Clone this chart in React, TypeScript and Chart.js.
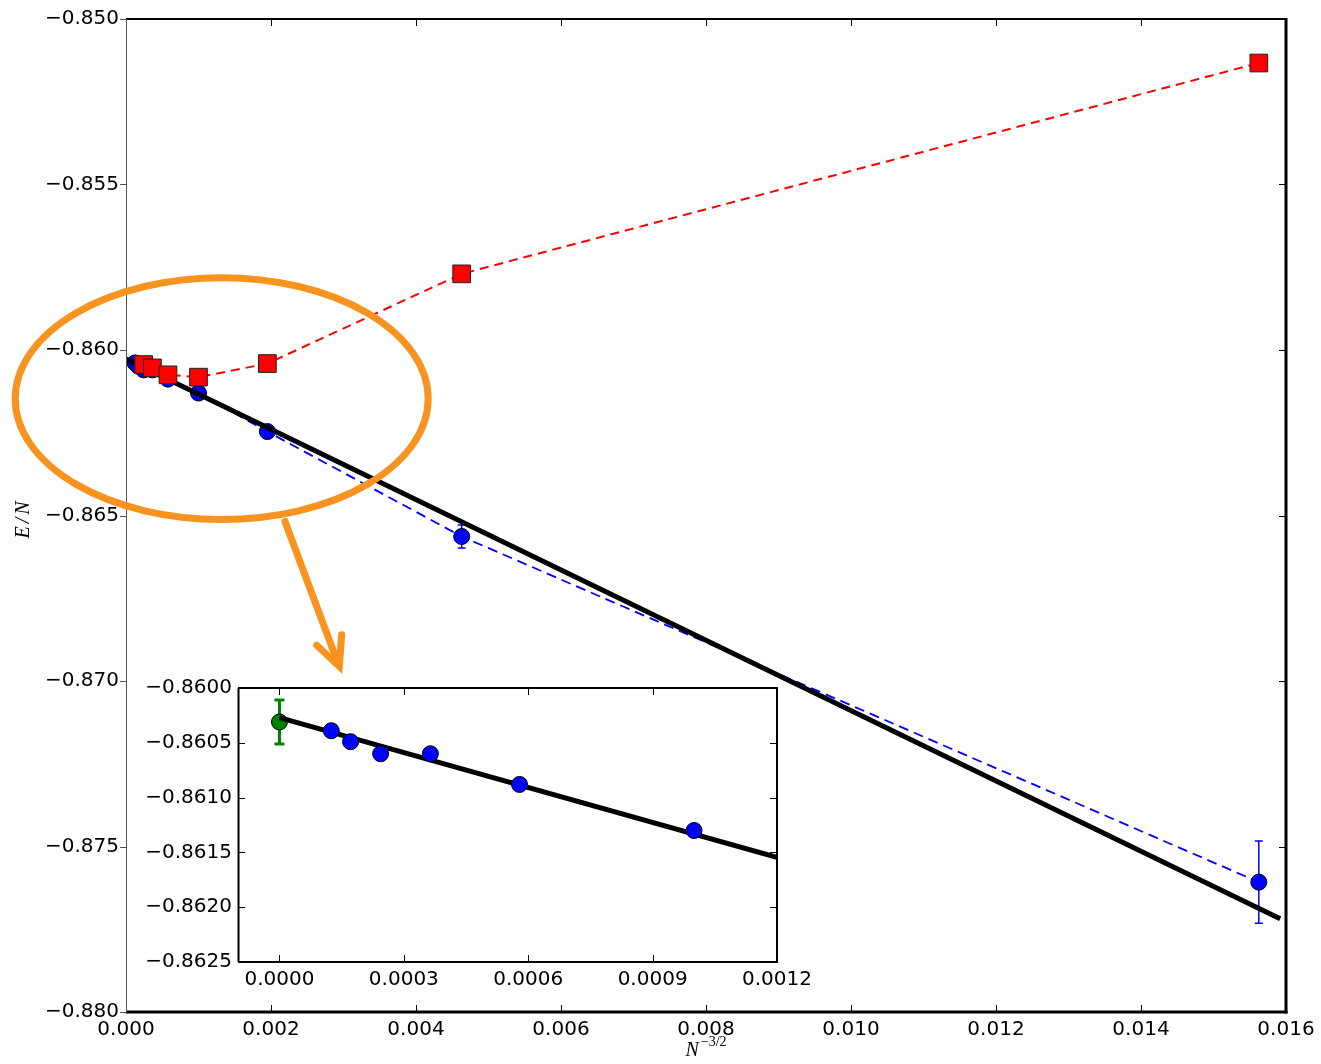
import React, { useEffect, useRef } from "react";
import { Chart, registerables } from "chart.js";

Chart.register(...registerables);

// Finite-size energies E/N against N^{-3/2}
const blueX = [0.000125, 0.0001715, 0.000244, 0.000364, 0.000579, 0.001, 0.00195, 0.00463, 0.015625];
const blueY = [-0.86039, -0.86049, -0.8606, -0.8606, -0.86088, -0.8613, -0.862465, -0.865634, -0.876077];
const blueErr = [0, 0, 0, 0, 0, 0, 0, 0.00035, 0.00124];

const redX = [0.000244, 0.000364, 0.000579, 0.001, 0.00195, 0.00463, 0.015625];
const redY = [-0.86044, -0.86054, -0.86075, -0.86082, -0.86041, -0.8577, -0.85133];

// Linear extrapolation and its N -> infinity value
const fitX = [0, 0.01592];
const fitY = [-0.86027, -0.877185];
const limitX = [0];
const limitY = [-0.86031];
const limitErr = [0.0002];

// Tick values
const mainXTicks = [0, 0.002, 0.004, 0.006, 0.008, 0.01, 0.012, 0.014, 0.016];
const mainYTicks = [-0.88, -0.875, -0.87, -0.865, -0.86, -0.855, -0.85];
const insetXTicks = [0, 0.0003, 0.0006, 0.0009, 0.0012];
const insetYTicks = [-0.8625, -0.862, -0.8615, -0.861, -0.8605, -0.86];

// Highlight around the small-x region (data units)
const ringCenter = { x: 0.00132, y: -0.86147 };
const ringRadius = { x: 0.002848, y: 0.003652 };
const arrowTail = { x: 0.002193, y: -0.86518 };
const arrowTip = { x: 0.002942, y: -0.86956 };
const arrowArms = [
  { x: 0.00263, y: -0.86892 },
  { x: 0.002975, y: -0.8686 },
];

const ORANGE = "#f7931e";
const TICK_FONT = { size: 20, family: "'DejaVu Sans', sans-serif" };

const zip = (xs: number[], ys: number[]) => xs.map((x, i) => ({ x, y: ys[i] }));

function fmt(v: number, d: number) {
  const s = Math.abs(v).toFixed(d);
  return v < -1e-12 ? "\u2212" + s : s;
}

const errorBars = {
  id: "errorBars",
  beforeDatasetsDraw(chart: any) {
    const { ctx, chartArea: ca } = chart;
    const x = chart.scales.x;
    const y = chart.scales.y;
    ctx.save();
    ctx.beginPath();
    ctx.rect(ca.left, ca.top, ca.right - ca.left, ca.bottom - ca.top);
    ctx.clip();
    chart.data.datasets.forEach((ds: any) => {
      if (!ds.errors) return;
      ds.data.forEach((p: any, j: number) => {
        const e = ds.errors[j];
        if (!e) return;
        const px = x.getPixelForValue(p.x);
        const t = y.getPixelForValue(p.y + e);
        const b = y.getPixelForValue(p.y - e);
        const c = ds.errorCap;
        ctx.strokeStyle = ds.errorColor;
        ctx.lineWidth = ds.errorWidth;
        ctx.beginPath();
        ctx.moveTo(px, t);
        ctx.lineTo(px, b);
        ctx.moveTo(px - c, t);
        ctx.lineTo(px + c, t);
        ctx.moveTo(px - c, b);
        ctx.lineTo(px + c, b);
        ctx.stroke();
      });
    });
    ctx.restore();
  },
};

function framePlugin(cfg: {
  xTicks: number[];
  yTicks: number[];
  leftOut: boolean;
  widths: [number, number, number, number];
  leftColor: string;
}) {
  return {
    id: "frame",
    beforeDraw(chart: any) {
      const { ctx, chartArea: ca } = chart;
      ctx.save();
      ctx.fillStyle = "#ffffff";
      ctx.fillRect(ca.left, ca.top, ca.right - ca.left, ca.bottom - ca.top);
      ctx.restore();
    },
    afterDatasetsDraw(chart: any) {
      const { ctx, chartArea: ca } = chart;
      const x = chart.scales.x;
      const y = chart.scales.y;
      const L = 7;
      ctx.save();
      ctx.lineWidth = 1;
      ctx.strokeStyle = "#000";
      ctx.beginPath();
      cfg.xTicks.forEach((v) => {
        const px = Math.round(x.getPixelForValue(v)) + 0.5;
        ctx.moveTo(px, ca.bottom);
        ctx.lineTo(px, ca.bottom - L);
        ctx.moveTo(px, ca.top);
        ctx.lineTo(px, ca.top + L);
      });
      cfg.yTicks.forEach((v) => {
        const py = Math.round(y.getPixelForValue(v)) + 0.5;
        ctx.moveTo(ca.right, py);
        ctx.lineTo(ca.right - L, py);
        if (!cfg.leftOut) {
          ctx.moveTo(ca.left, py);
          ctx.lineTo(ca.left + L, py);
        }
      });
      ctx.stroke();
      if (cfg.leftOut) {
        ctx.strokeStyle = cfg.leftColor;
        ctx.beginPath();
        cfg.yTicks.forEach((v) => {
          const py = Math.round(y.getPixelForValue(v)) + 0.5;
          ctx.moveTo(ca.left - 6, py);
          ctx.lineTo(ca.left, py);
        });
        ctx.stroke();
      }
      const [wt, wr, wb, wl] = cfg.widths;
      ctx.strokeStyle = "#000";
      ctx.lineWidth = wt;
      ctx.beginPath();
      ctx.moveTo(ca.left, ca.top);
      ctx.lineTo(ca.right, ca.top);
      ctx.stroke();
      ctx.lineWidth = wr;
      ctx.beginPath();
      ctx.moveTo(ca.right, ca.top - wt / 2);
      ctx.lineTo(ca.right, ca.bottom + wb / 2);
      ctx.stroke();
      ctx.lineWidth = wb;
      ctx.beginPath();
      ctx.moveTo(ca.left, ca.bottom);
      ctx.lineTo(ca.right + wr / 2, ca.bottom);
      ctx.stroke();
      ctx.strokeStyle = cfg.leftColor;
      ctx.lineWidth = wl;
      ctx.beginPath();
      ctx.moveTo(Math.round(ca.left) + 0.5, ca.top);
      ctx.lineTo(Math.round(ca.left) + 0.5, ca.bottom);
      ctx.stroke();
      ctx.restore();
    },
  };
}

const mainDecor = {
  id: "mainDecor",
  afterDraw(chart: any) {
    const { ctx, chartArea: ca } = chart;
    const x = chart.scales.x;
    const y = chart.scales.y;
    ctx.save();
    // highlight ring
    const cx = x.getPixelForValue(ringCenter.x);
    const cy = y.getPixelForValue(ringCenter.y);
    const rx = x.getPixelForValue(ringCenter.x + ringRadius.x) - cx;
    const ry = cy - y.getPixelForValue(ringCenter.y + ringRadius.y);
    ctx.strokeStyle = ORANGE;
    ctx.lineWidth = 7;
    ctx.beginPath();
    ctx.ellipse(cx, cy, rx, ry, 0, 0, Math.PI * 2);
    ctx.stroke();
    // arrow to the inset
    const tx = x.getPixelForValue(arrowTip.x);
    const ty = y.getPixelForValue(arrowTip.y);
    ctx.lineCap = "round";
    ctx.lineJoin = "miter";
    ctx.beginPath();
    ctx.moveTo(x.getPixelForValue(arrowTail.x), y.getPixelForValue(arrowTail.y));
    ctx.lineTo(tx - 2, ty - 5);
    ctx.stroke();
    ctx.beginPath();
    ctx.moveTo(x.getPixelForValue(arrowArms[0].x), y.getPixelForValue(arrowArms[0].y));
    ctx.lineTo(tx, ty);
    ctx.lineTo(x.getPixelForValue(arrowArms[1].x), y.getPixelForValue(arrowArms[1].y));
    ctx.stroke();
    ctx.restore();

    // axis titles
    ctx.save();
    ctx.fillStyle = "#000";
    ctx.translate(24, (ca.top + ca.bottom) / 2 + 3);
    ctx.rotate(-Math.PI / 2);
    ctx.font = "italic 20px 'Liberation Serif', serif";
    (ctx as any).letterSpacing = "3px";
    ctx.textAlign = "center";
    ctx.textBaseline = "middle";
    ctx.fillText("E/N", 0, 0);
    ctx.restore();

    ctx.save();
    ctx.fillStyle = "#000";
    const mainFont = "italic 20px 'Liberation Serif', serif";
    const supFont = "14px 'Liberation Serif', serif";
    ctx.font = mainFont;
    const wN = ctx.measureText("N").width;
    ctx.font = supFont;
    const sup = "\u22123/2";
    const wS = ctx.measureText(sup).width;
    const x0 = (ca.left + ca.right) / 2 - (wN + wS + 2) / 2;
    const base = 1056;
    ctx.textAlign = "left";
    ctx.textBaseline = "alphabetic";
    ctx.font = mainFont;
    ctx.fillText("N", x0, base);
    ctx.font = supFont;
    ctx.fillText(sup, x0 + wN + 2, base - 10);
    ctx.restore();
  },
};

function tickAxis(
  min: number,
  max: number,
  ticks: number[],
  digits: number,
  padding: number,
  fit: (s: any) => void
) {
  return {
    type: "linear" as const,
    min,
    max,
    grid: { display: false, drawTicks: false },
    border: { display: false },
    afterBuildTicks: (s: any) => {
      s.ticks = ticks.map((v) => ({ value: v }));
    },
    afterFit: fit,
    ticks: {
      padding,
      maxRotation: 0,
      autoSkip: false,
      color: "#000",
      font: TICK_FONT,
      callback: (v: any) => fmt(Number(v), digits),
    },
  };
}

function MainChart() {
  const ref = useRef<HTMLCanvasElement>(null);
  useEffect(() => {
    const chart = new Chart(ref.current!, {
      type: "scatter",
      data: {
        datasets: [
          {
            data: zip(redX, redY),
            showLine: true,
            borderColor: "#ff0000",
            borderWidth: 2,
            borderDash: [9, 6],
            pointStyle: "rect",
            pointRadius: 12.5,
            pointBackgroundColor: "#ff0000",
            pointBorderColor: "#222",
            pointBorderWidth: 1,
            order: 0,
          } as any,
          {
            data: zip(fitX, fitY),
            showLine: true,
            borderColor: "#000",
            borderWidth: 5,
            pointRadius: 0,
            order: 1,
          },
          {
            data: zip(blueX, blueY),
            errors: blueErr,
            errorColor: "#0000ff",
            errorWidth: 1.5,
            errorCap: 4,
            showLine: true,
            borderColor: "#0000ff",
            borderWidth: 1.8,
            borderDash: [10, 6],
            pointRadius: 8,
            pointBackgroundColor: "#0000ff",
            pointBorderColor: "#000",
            pointBorderWidth: 1,
            order: 2,
          } as any,
        ],
      },
      options: {
        animation: false,
        responsive: false,
        events: [],
        layout: { padding: { top: 17, right: 35, left: 0, bottom: 0 } },
        plugins: { legend: { display: false }, tooltip: { enabled: false } },
        scales: {
          x: tickAxis(0, 0.016, mainXTicks, 3, 6, (s) => {
            s.height = 52;
          }),
          y: tickAxis(-0.88, -0.85, mainYTicks, 3, 7, (s) => {
            s.width = 126;
          }),
        },
      },
      plugins: [
        errorBars,
        framePlugin({
          xTicks: mainXTicks,
          yTicks: mainYTicks,
          leftOut: true,
          widths: [2, 3, 3, 1],
          leftColor: "#555",
        }),
        mainDecor,
      ],
    });
    return () => chart.destroy();
  }, []);
  return (
    <canvas
      ref={ref}
      width={1321}
      height={1064}
      style={{ position: "absolute", left: 0, top: 0, width: 1321, height: 1064 }}
    />
  );
}

function InsetChart() {
  const ref = useRef<HTMLCanvasElement>(null);
  useEffect(() => {
    const chart = new Chart(ref.current!, {
      type: "scatter",
      data: {
        datasets: [
          {
            data: zip(blueX, blueY),
            pointRadius: 8,
            pointBackgroundColor: "#0000ff",
            pointBorderColor: "#000",
            pointBorderWidth: 1,
            order: 0,
          },
          {
            data: zip(fitX, fitY),
            showLine: true,
            borderColor: "#000",
            borderWidth: 5,
            pointRadius: 0,
            order: 1,
          },
          {
            data: zip(limitX, limitY),
            errors: limitErr,
            errorColor: "#008000",
            errorWidth: 3,
            errorCap: 5,
            pointRadius: 8,
            pointBackgroundColor: "#008000",
            pointBorderColor: "#000",
            pointBorderWidth: 1,
            order: 2,
          } as any,
        ],
      },
      options: {
        animation: false,
        responsive: false,
        events: [],
        layout: { padding: { top: 18, right: 53, left: 0, bottom: 0 } },
        plugins: { legend: { display: false }, tooltip: { enabled: false } },
        scales: {
          x: tickAxis(-0.0001, 0.0012, insetXTicks, 4, 6, (s) => {
            s.height = 38;
          }),
          y: tickAxis(-0.8625, -0.86, insetYTicks, 4, 6, (s) => {
            s.width = 108;
          }),
        },
      },
      plugins: [
        errorBars,
        framePlugin({
          xTicks: insetXTicks,
          yTicks: insetYTicks,
          leftOut: false,
          widths: [2, 2, 2, 2],
          leftColor: "#000",
        }),
      ],
    });
    return () => chart.destroy();
  }, []);
  return (
    <canvas
      ref={ref}
      width={700}
      height={330}
      style={{ position: "absolute", left: 130, top: 670, width: 700, height: 330 }}
    />
  );
}

export default function App() {
  return (
    <div
      style={{
        position: "absolute",
        left: 0,
        top: 0,
        width: 1321,
        height: 1064,
        background: "#ffffff",
        overflow: "hidden",
      }}
    >
      <MainChart />
      <InsetChart />
    </div>
  );
}
